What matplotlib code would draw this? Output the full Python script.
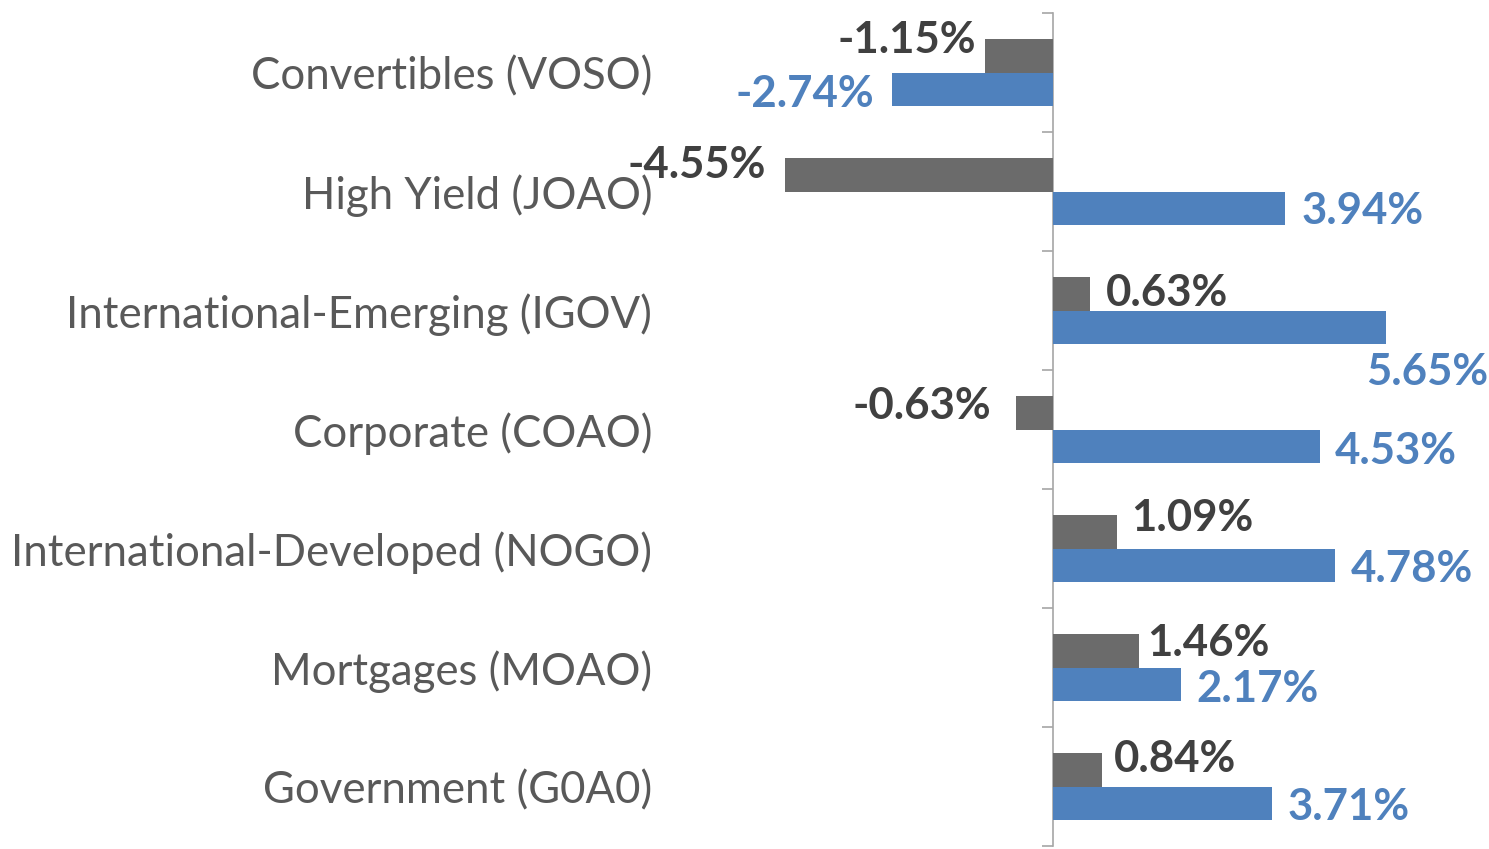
import numpy as np
import matplotlib
matplotlib.use("Agg")
import matplotlib.pyplot as plt

# fund categories, top to bottom
categories = [
    "Convertibles (VOSO)",
    "High Yield (JOAO)",
    "International-Emerging (IGOV)",
    "Corporate (COAO)",
    "International-Developed (NOGO)",
    "Mortgages (MOAO)",
    "Government (G0A0)",
]
grey_vals = [-1.15, -4.55, 0.63, -0.63, 1.09, 1.46, 0.84]
blue_vals = [-2.74, 3.94, 5.65, 4.53, 4.78, 2.17, 3.71]

# label nudges in pixels (dx from bar end, dy from bar centre, down is +)
grey_nudge = [(-9, -18), (-19, -12), (16, -3), (-25, -9), (14, -16), (8, -10), (11, -13)]
blue_nudge = [(-17, 3), (16, 1), (-20, 43), (15, 3), (16, 2), (16, 3), (16, 2)]

GREY = "#6B6B6B"
BLUE = "#4F81BD"
FONT = "Lato"
FS = 31.5

W, H = 1489, 849
fig = plt.figure(figsize=(W / 100, H / 100), dpi=100)

px_per_unit = 58.9
zero_px = 1053
left_px = 662
ax = fig.add_axes([left_px / W, 3 / H, (W - left_px) / W, 833 / H])
xmin = -(zero_px - left_px) / px_per_unit
xmax = (W - zero_px) / px_per_unit
ax.set_xlim(xmin, xmax)

y = np.arange(len(categories))
bh = 0.28
ax.barh(y - bh / 2, grey_vals, height=bh, color=GREY, zorder=2)
ax.barh(y + bh / 2, blue_vals, height=bh, color=BLUE, zorder=2)
ax.set_ylim(len(categories) - 0.5, -0.5)

ax.set_yticks(y)
ax.set_yticklabels(categories, fontsize=FS, color="#595959", family=FONT)
ax.tick_params(axis="y", length=0, pad=7)
ax.set_xticks([])
for s in ax.spines.values():
    s.set_visible(False)

# vertical axis at zero with boundary ticks
zfrac = (0 - xmin) / (xmax - xmin)
sec = ax.secondary_yaxis(zfrac)
sec.set_yticks(np.arange(-0.5, len(categories), 1.0))
sec.tick_params(length=8, width=1.2, color="#A6A6A6", labelleft=False)
sec.spines["left"].set_color("#A6A6A6")
sec.spines["left"].set_linewidth(1.2)

def add_labels(vals, offsets, ys, color):
    for v, (dx, dy), yy in zip(vals, offsets, ys):
        ha = "left" if v > 0 else "right"
        ax.annotate(f"{v:.2f}%", xy=(v, yy), xytext=(dx, -dy - 15),
                    textcoords="offset pixels", ha=ha, va="baseline",
                    fontsize=FS, fontweight="bold", color=color,
                    family=FONT, zorder=3, annotation_clip=False)

add_labels(grey_vals, grey_nudge, y - bh / 2, "#404040")
add_labels(blue_vals, blue_nudge, y + bh / 2, BLUE)

fig.savefig("out.png", dpi=100)
